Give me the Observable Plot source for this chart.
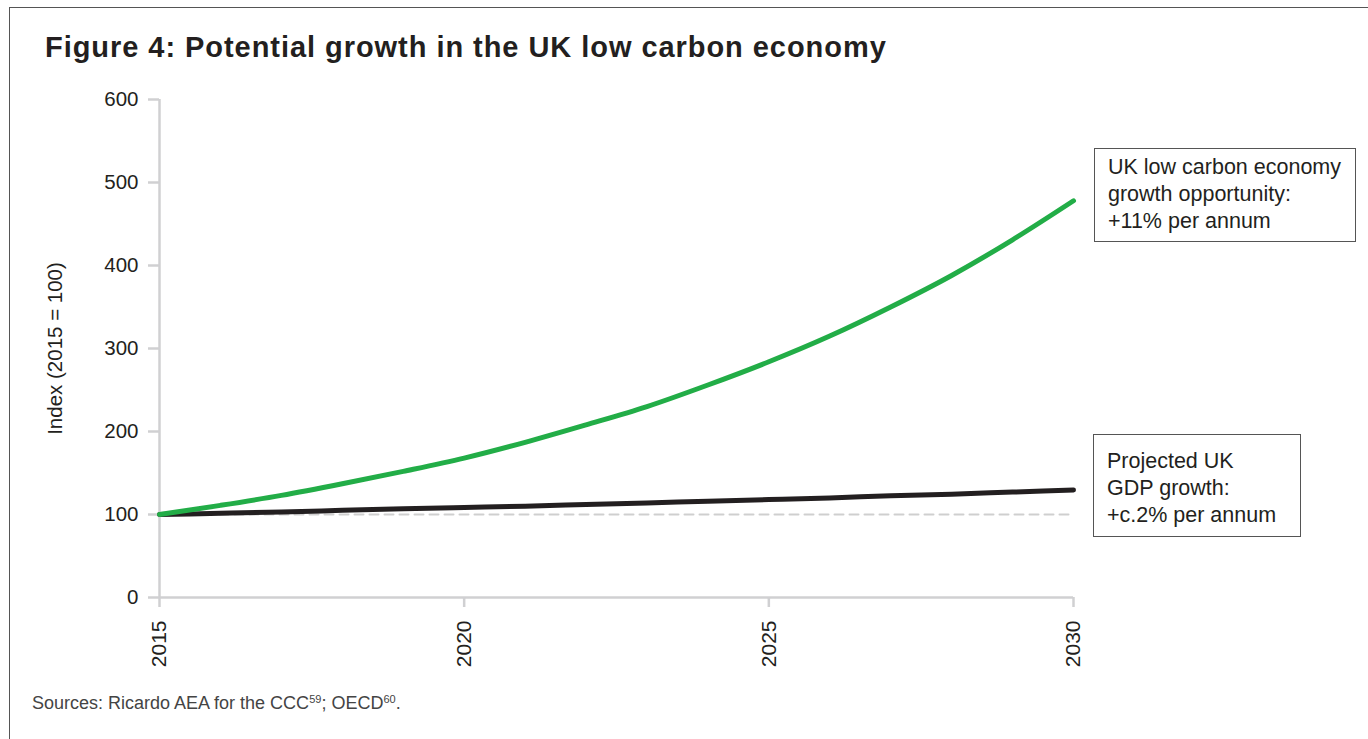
<!DOCTYPE html>
<html>
<head>
<meta charset="utf-8">
<script src="https://cdn.jsdelivr.net/npm/d3@7"></script>
<script src="https://cdn.jsdelivr.net/npm/@observablehq/plot@0.6"></script>
<style>
  html, body { margin: 0; padding: 0; background: #fff; width: 1368px; height: 739px; overflow: hidden; }
  body { font-family: "Liberation Sans", Arial, Helvetica, sans-serif; position: relative; }
  #frame { position: absolute; left: 9px; top: 7px; width: 1400px; height: 800px; border: 1.5px solid #555; box-sizing: border-box; }
  #title { position: absolute; left: 45px; top: 31px; font-size: 29px; font-weight: bold; color: #231f20; white-space: nowrap; letter-spacing: 0.95px; }
  #chart { position: absolute; left: 0; top: 80px; }
  .note { position: absolute; border: 1.3px solid #555; background: #fff; font-size: 21.5px; line-height: 27px; color: #231f20; box-sizing: border-box; padding: 5px 0 0 13px; white-space: nowrap; }
  #caption { position: absolute; left: 32px; top: 693px; font-size: 18px; color: #444; white-space: nowrap; }
  #caption sup { font-size: 11px; vertical-align: 6px; }
</style>
</head>
<body>
<div id="frame"></div>
<div id="title">Figure 4: Potential growth in the UK low carbon economy</div>
<div id="chart"></div>
<div class="note" style="left:1094px; top:148px; width:262px; height:94px;">UK low carbon economy<br>growth opportunity:<br>+11% per annum</div>
<div class="note" style="left:1093px; top:434px; width:208px; height:103px; padding-top:13px;">Projected UK<br>GDP growth:<br>+c.2% per annum</div>
<div id="caption">Sources: Ricardo AEA for the CCC<sup>59</sup>; OECD<sup>60</sup>.</div>
<script>
const years = [2015, 2016, 2017, 2018, 2019, 2020, 2021, 2022, 2023, 2024, 2025, 2026, 2027, 2028, 2029, 2030];
const lowCarbon = [100, 111, 123, 137, 152, 168, 187, 208, 230, 256, 284, 315, 350, 388, 431, 478];
const gdp = [100, 101.5, 103, 105, 107, 108.5, 110, 112, 114, 116, 118, 120, 122.5, 124.5, 127, 129.5];
const baseline = [100, 100];
const baselineYears = [2015, 2030];
const xTicks = [2015, 2020, 2025, 2030];
const yTicks = [0, 100, 200, 300, 400, 500, 600];

const green = years.map((y, i) => ({year: y, value: lowCarbon[i]}));
const black = years.map((y, i) => ({year: y, value: gdp[i]}));
const base = baselineYears.map((y, i) => ({year: y, value: baseline[i]}));

const axisColor = "#d0d0d2";

const chart = Plot.plot({
  width: 1368,
  height: 600,
  marginLeft: 159,
  marginRight: 295,
  marginTop: 19,
  marginBottom: 83,
  style: { fontFamily: "'Liberation Sans', Arial, Helvetica, sans-serif", fontSize: "21px", color: "#231f20", background: "transparent" },
  x: { domain: [2015, 2030] },
  y: { domain: [0, 600] },
  marks: [
    Plot.ruleX([2015], { y1: 0, y2: 600, stroke: axisColor, strokeWidth: 2.5 }),
    Plot.ruleY([0], { x1: 2015, x2: 2030, stroke: axisColor, strokeWidth: 2.5 }),
    Plot.axisY({ ticks: yTicks, tickSize: 11, tickPadding: 10, stroke: axisColor, strokeWidth: 2.5, fill: "#231f20", label: "Index (2015 = 100)", labelAnchor: "center", labelArrow: "none", labelOffset: 112, fontSize: 20.5 }),
    Plot.axisX({ ticks: xTicks, tickSize: 10, tickPadding: 13, tickRotate: -90, tickFormat: d3.format("d"), stroke: axisColor, strokeWidth: 2.5, fill: "#231f20", label: null, fontSize: 21 }),
    Plot.line(base, { x: "year", y: "value", stroke: "#cfcfcf", strokeWidth: 2, strokeDasharray: "9,6" }),
    Plot.line(black, { x: "year", y: "value", stroke: "#231f20", strokeWidth: 5, strokeLinecap: "round", curve: "monotone-x" }),
    Plot.line(green, { x: "year", y: "value", stroke: "#22ad47", strokeWidth: 5, strokeLinecap: "round", curve: "monotone-x" })
  ]
});
document.getElementById("chart").appendChild(chart);
</script>
</body>
</html>
